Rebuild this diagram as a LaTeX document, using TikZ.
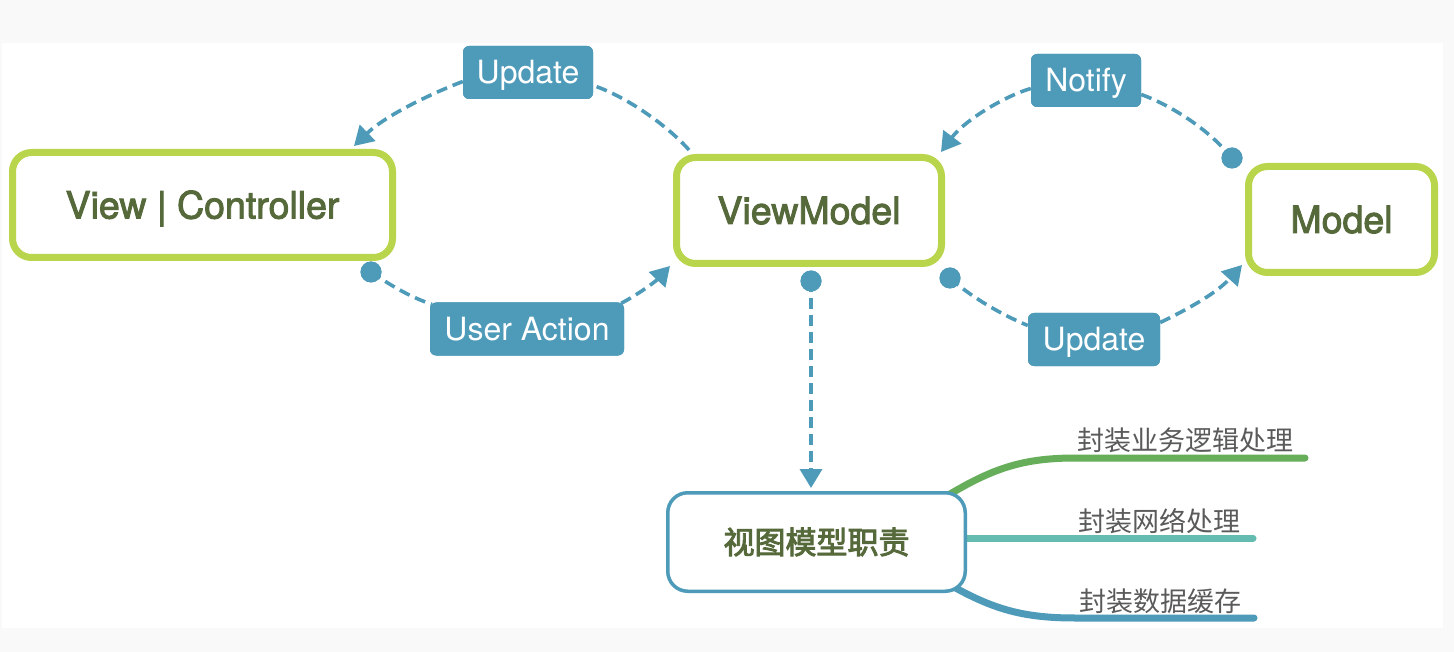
\documentclass[tikz,border=0pt]{standalone}
\usepackage{fontspec}
\setmainfont{TeX Gyre Heros}
\newfontfamily\medfont[FakeBold=2.5]{TeX Gyre Heros}
\newfontfamily\cjk{Noto Sans CJK SC}
\newfontfamily\cjkmed[FakeBold=3]{Noto Sans CJK SC}
\usetikzlibrary{arrows.meta}
\definecolor{bggray}{HTML}{F9F9F9}
\definecolor{lime}{HTML}{B8D54B}
\definecolor{olive}{HTML}{56693A}
\definecolor{cblue}{HTML}{4E9AB9}
\definecolor{bgreen}{HTML}{66AE5A}
\definecolor{bteal}{HTML}{63BCAF}
\definecolor{btext}{HTML}{5A5A5A}
\tikzset{
  mainbox/.style={draw=lime, line width=7pt, fill=white, rounded corners=19pt,
    font=\medfont\fontsize{37.5pt}{40pt}\selectfont, text=olive, text height=27pt, text depth=0pt, inner sep=0pt},
  tag/.style={fill=cblue, rounded corners=6pt, text=white, inner sep=0pt,
    font=\fontsize{32pt}{34pt}\selectfont, text height=23pt, text depth=0pt, minimum height=53pt},
  conn/.style={draw=cblue, line width=3.6pt, dash pattern=on 11pt off 6pt},
  tip/.style={-{Triangle[length=19pt,width=22pt]}},
  dot/.style={circle, fill=cblue, minimum size=21pt, inner sep=0pt},
  branch/.style={line width=7pt, line cap=round},
  btxt/.style={anchor=west, text=btext, inner sep=0pt, font=\cjk\fontsize{27pt}{29pt}\selectfont},
}
\begin{document}
\begin{tikzpicture}[x=1pt,y=-1pt]
\useasboundingbox (0,0) rectangle (1454,652);
\fill[bggray] (0,0) rectangle (1454,652);
\fill[white] (2,43) rectangle (1443,628);

% dots and free ends
\node[dot] (d1) at (371,272) {};
\node[dot] (d2) at (1232,158) {};
\node[dot] (d3) at (950,278) {};
\node[dot] (d4) at (811,281) {};
\coordinate (t1) at (354,146);
\coordinate (t2) at (670,266);
\coordinate (t3) at (941,152);
\coordinate (t4) at (1242,265);
\coordinate (t5) at (811,488);
\coordinate (s1) at (689,150);

% labels (positions)
\node[tag, minimum width=130pt] (upd1) at (528,72.5) {Update};
\node[tag, minimum width=194pt] (ua) at (527,329) {User Action};
\node[tag, minimum width=110pt] (nt) at (1086,80.5) {Notify};
\node[tag, minimum width=132pt] (upd2) at (1094,339.5) {Update};

% dashed connectors
\draw[conn] (s1) .. controls (670,128) and (628,97) .. ([yshift=-13pt]upd1.east);
\draw[conn,tip] ([yshift=-9pt]upd1.west) .. controls (430,94) and (385,116) .. (t1);
\draw[conn] (d1.center) .. controls (390,285) and (410,297) .. ([xshift=2pt,yshift=-2pt]ua.north west);
\draw[conn,tip] ([xshift=-3pt,yshift=-1pt]ua.north east) .. controls (637,295) and (655,282) .. (t2);
\draw[conn,tip] ([yshift=-8pt]nt.west) .. controls (1005,96) and (965,120) .. (t3);
\draw[conn] ([yshift=-14pt]nt.east) .. controls (1165,103) and (1205,125) .. (d2.center);
\draw[conn] (d3.center) .. controls (965,292) and (995,312) .. ([yshift=14pt]upd2.west);
\draw[conn,tip] ([yshift=17pt]upd2.east) .. controls (1180,313) and (1215,295) .. (t4);
\draw[conn,tip] (d4.center) -- (t5);

% redraw labels and dots on top
\node[tag, minimum width=130pt] at (upd1) {Update};
\node[tag, minimum width=194pt] at (ua) {User Action};
\node[tag, minimum width=110pt] at (nt) {Notify};
\node[tag, minimum width=132pt] at (upd2) {Update};
\node[dot] at (d1) {};
\node[dot] at (d2) {};
\node[dot] at (d3) {};
\node[dot] at (d4) {};

% main boxes
\node[mainbox, minimum width=380pt, minimum height=105pt] (vc) at (202.5,205) {View | Controller};
\node[mainbox, minimum width=265pt, minimum height=106pt] (vm) at (809,210.5) {ViewModel};
\node[mainbox, minimum width=186pt, minimum height=106pt] (md) at (1341.5,219.5) {Model};

% mind-map branches
\coordinate (g1) at (1305,458);
\coordinate (g2) at (1253,538);
\coordinate (g3) at (1254,618);
\draw[branch, bgreen] (945,497) .. controls (990,470) and (1020,458) .. (1075,458) -- (g1);
\draw[branch, bteal] (950,538) -- (g2);
\draw[branch, cblue] (945,582) .. controls (990,608) and (1020,618) .. (1075,618) -- (g3);

\node[draw=cblue, line width=3.5pt, fill=white, rounded corners=20pt, minimum width=297.5pt,
  minimum height=98.5pt, inner sep=0pt, text=olive, font=\cjkmed\fontsize{31pt}{33pt}\selectfont]
  (resp) at (816.5,542) {视图模型职责};

\node[btxt] (b1) at (1077,440) {封装业务逻辑处理};
\node[btxt] (b2) at (1078,521) {封装网络处理};
\node[btxt] (b3) at (1079,601) {封装数据缓存};
\end{tikzpicture}
\end{document}
